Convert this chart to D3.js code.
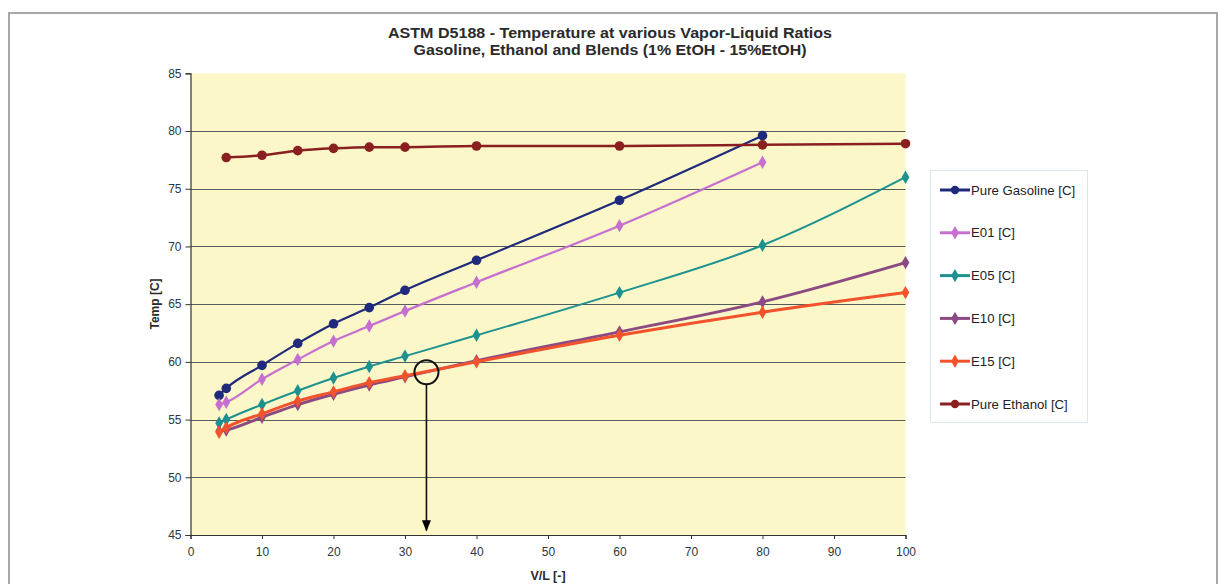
<!DOCTYPE html>
<html><head><meta charset="utf-8">
<script src="https://cdn.jsdelivr.net/npm/d3@7"></script>
<style>body{margin:0;background:#fff;}svg{display:block;font-family:"Liberation Sans",Arial,sans-serif;}</style>
</head><body><svg id="c" width="1227" height="584"></svg>
<script>
const vl = [4, 5, 10, 15, 20, 25, 30, 40, 60, 80, 100];
const seriesNames = ["Pure Gasoline [C]", "E01 [C]", "E05 [C]", "E10 [C]", "E15 [C]", "Pure Ethanol [C]"];
const gasoline = [57.1, 57.7, 59.7, 61.6, 63.3, 64.7, 66.2, 68.8, 74.0, 79.6, null];
const e01 = [56.3, 56.5, 58.5, 60.2, 61.8, 63.1, 64.4, 66.9, 71.8, 77.3, null];
const e05 = [54.7, 55.0, 56.3, 57.5, 58.6, 59.6, 60.5, 62.3, 66.0, 70.1, 76.0];
const e10 = [54.0, 54.1, 55.2, 56.3, 57.2, 58.0, 58.7, 60.1, 62.6, 65.2, 68.6];
const e15 = [53.9, 54.3, 55.5, 56.6, 57.4, 58.2, 58.8, 60.0, 62.3, 64.3, 66.0];
const ethanol = [null, 77.7, 77.9, 78.3, 78.5, 78.6, 78.6, 78.7, 78.7, 78.8, 78.9];
const xTicks = [0, 10, 20, 30, 40, 50, 60, 70, 80, 90, 100];
const yTicks = [45, 50, 55, 60, 65, 70, 75, 80, 85];
const annotation = {x: 33, y: 59.1, yEnd: 45.4};

const colors = ["#1f2a7c", "#c66fd0", "#1c9190", "#8c4a82", "#f2532c", "#8a1f1f"];
const markers = ["circle", "diamond", "diamond", "diamond", "diamond", "circle"];
const widths = [2.2, 2.2, 2, 3, 3, 2.5];
const allSeries = [gasoline, e01, e05, e10, e15, ethanol];

const svg = d3.select("#c");
svg.append("rect").attr("x", 9).attr("y", 13).attr("width", 1208).attr("height", 600)
  .attr("fill", "#fff").attr("stroke", "#a8a8a8").attr("stroke-width", 2);

const x = d3.scaleLinear().domain([0, 100]).range([190.5, 905.5]);
const y = d3.scaleLinear().domain([45, 85]).range([535, 73.3]);

svg.append("rect").attr("x", x(0)).attr("y", y(85)).attr("width", x(100) - x(0)).attr("height", y(45) - y(85))
  .attr("fill", "#fbf7c8");

svg.append("g").selectAll("line").data(yTicks.filter(t => t > 45 && t < 85)).join("line")
  .attr("x1", x(0)).attr("x2", x(100)).attr("y1", d => Math.round(y(d)) + 0.5).attr("y2", d => Math.round(y(d)) + 0.5)
  .attr("stroke", "#555c5c").attr("stroke-width", 1.2);

const xAxis = svg.append("g").attr("transform", `translate(0,${y(45)})`)
  .call(d3.axisBottom(x).tickValues(xTicks).tickSize(4).tickPadding(8));
const yAxis = svg.append("g").attr("transform", `translate(${x(0)},0)`)
  .call(d3.axisLeft(y).tickValues(yTicks).tickSize(5).tickPadding(4));
[xAxis, yAxis].forEach(a => {
  a.select(".domain").attr("stroke", "#333").attr("stroke-width", 1.2);
  a.selectAll(".tick line").attr("stroke", "#333");
  a.selectAll("text").attr("font-size", 12).attr("fill", "#2c3742").attr("font-family", "Liberation Sans, Arial, sans-serif");
});

const line = d3.line().defined(d => d[1] != null).x(d => x(d[0])).y(d => y(d[1]))
  .curve(d3.curveMonotoneX);
const diamond = d3.symbol().type(d3.symbolDiamond).size(52);

allSeries.forEach((s, i) => {
  const pts = vl.map((v, j) => [v, s[j]]).filter(d => d[1] != null);
  svg.append("path").datum(pts).attr("d", line).attr("fill", "none")
    .attr("stroke", colors[i]).attr("stroke-width", widths[i]);
  const g = svg.append("g");
  if (markers[i] === "circle") {
    g.selectAll("circle").data(pts).join("circle").attr("cx", d => x(d[0])).attr("cy", d => y(d[1]))
      .attr("r", 4.8).attr("fill", colors[i]);
  } else {
    g.selectAll("path").data(pts).join("path").attr("d", diamond)
      .attr("transform", d => `translate(${x(d[0])},${y(d[1])})`).attr("fill", colors[i]);
  }
});

svg.append("defs").append("marker").attr("id", "arr").attr("viewBox", "0 0 10 10")
  .attr("refX", 9).attr("refY", 5).attr("markerWidth", 7).attr("markerHeight", 7).attr("orient", "auto")
  .append("path").attr("d", "M0,1 L10,5 L0,9 Z").attr("fill", "#000");
svg.append("circle").attr("cx", x(annotation.x)).attr("cy", y(annotation.y)).attr("r", 12)
  .attr("fill", "none").attr("stroke", "#111").attr("stroke-width", 2);
svg.append("line").attr("x1", x(annotation.x)).attr("x2", x(annotation.x))
  .attr("y1", y(annotation.y) + 12).attr("y2", y(annotation.yEnd))
  .attr("stroke", "#111").attr("stroke-width", 1.6).attr("marker-end", "url(#arr)");

svg.append("text").attr("x", 610).attr("y", 38).attr("text-anchor", "middle").attr("font-size", 14.5)
  .attr("font-weight", "bold").attr("fill", "#2a2a2a").attr("textLength", 444).attr("lengthAdjust", "spacingAndGlyphs")
  .text("ASTM D5188 - Temperature at various Vapor-Liquid Ratios");
svg.append("text").attr("x", 610).attr("y", 55).attr("text-anchor", "middle").attr("font-size", 14.5)
  .attr("font-weight", "bold").attr("fill", "#2a2a2a").attr("textLength", 393).attr("lengthAdjust", "spacingAndGlyphs")
  .text("Gasoline, Ethanol and Blends (1% EtOH - 15%EtOH)");
svg.append("text").attr("transform", "translate(159,304) rotate(-90)").attr("text-anchor", "middle")
  .attr("font-size", 12).attr("font-weight", "bold").attr("fill", "#2a2a2a").text("Temp [C]");
svg.append("text").attr("x", 548).attr("y", 580).attr("text-anchor", "middle")
  .attr("font-size", 12.5).attr("font-weight", "bold").attr("fill", "#2a2a2a").text("V/L [-]");

const lg = svg.append("g");
lg.append("rect").attr("x", 930.5).attr("y", 170.5).attr("width", 157).attr("height", 252)
  .attr("fill", "#fff").attr("stroke", "#dce6ee");
seriesNames.forEach((n, i) => {
  const cy = 190 + i * 42.8;
  lg.append("line").attr("x1", 940).attr("x2", 970).attr("y1", cy).attr("y2", cy)
    .attr("stroke", colors[i]).attr("stroke-width", 3);
  if (markers[i] === "circle") lg.append("circle").attr("cx", 955).attr("cy", cy).attr("r", 4.2).attr("fill", colors[i]);
  else lg.append("path").attr("d", diamond).attr("transform", `translate(955,${cy})`).attr("fill", colors[i]);
  lg.append("text").attr("x", 971).attr("y", cy + 4.5).attr("font-size", 13.2).attr("fill", "#222").text(n);
});
</script></body></html>
